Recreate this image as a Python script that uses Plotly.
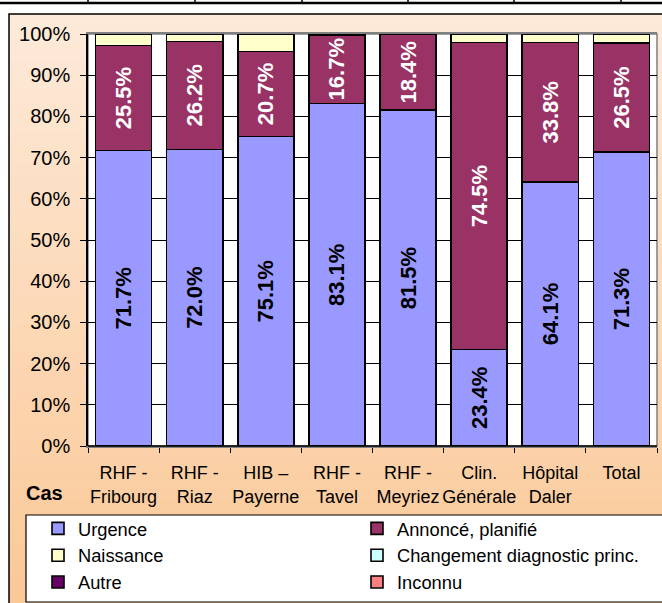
import plotly.graph_objects as go

categories = ["RHF -<br>Fribourg", "RHF -<br>Riaz", "HIB –<br>Payerne", "RHF -<br>Tavel",
              "RHF -<br>Meyriez", "Clin.<br>Générale", "Hôpital<br>Daler", "Total"]
urgence = [71.7, 72.0, 75.1, 83.1, 81.5, 23.4, 64.1, 71.3]
annonce = [25.5, 26.2, 20.7, 16.7, 18.4, 74.5, 33.8, 26.5]
naissance = [2.8, 1.8, 4.2, 0.2, 0.1, 2.1, 2.1, 2.2]
changement = [0, 0, 0, 0, 0, 0, 0, 0]
autre = [0, 0, 0, 0, 0, 0, 0, 0]
inconnu = [0, 0, 0, 0, 0, 0, 0, 0]
y_ticks = [0, 10, 20, 30, 40, 50, 60, 70, 80, 90, 100]
y_tick_labels = [f"{v}%" for v in y_ticks]

W, H = 662, 603
L, R, T, B = 88, 5, 34, 157
PW, PH = W - L - R, H - T - B

def px(x):
    return (x - L) / PW

def py(y):
    return (H - B - y) / PH

FONT = "Liberation Sans, Arial, sans-serif"
line = dict(color="black", width=1.6)

fig = go.Figure()
series = [
    ("Urgence", urgence, "#9999FF", "black", True),
    ("Annoncé, planifié", annonce, "#993366", "white", True),
    ("Naissance", naissance, "#FFFFCC", "black", False),
    ("Changement diagnostic princ.", changement, "#CCFFFF", "black", False),
    ("Autre", autre, "#660066", "black", False),
    ("Inconnu", inconnu, "#FF8080", "black", False),
]
for name, vals, color, tcol, lab in series:
    fig.add_trace(go.Bar(
        name=name, x=categories, y=vals,
        marker=dict(color=color, line=line),
        text=[f"{v:.1f}%" for v in vals] if lab else None,
        textposition="inside" if lab else "none",
        textangle=-90, insidetextanchor="middle", constraintext="none",
        insidetextfont=dict(family=FONT, size=22, color=tcol, weight="bold"),
    ))

shapes = []
# gradient background of chart area
top_c = (253, 234, 218)
bot_c = (251, 200, 150)
y_start, y_end = 14, 603
n = 40
for i in range(n):
    f = (i + 0.5) / n
    c = tuple(round(top_c[k] + (bot_c[k] - top_c[k]) * f) for k in range(3))
    ya = y_start + (y_end - y_start) * i / n
    yb = y_start + (y_end - y_start) * (i + 1) / n + 0.6
    shapes.append(dict(type="rect", xref="paper", yref="paper", layer="below",
                       x0=px(9), x1=px(670), y0=py(ya), y1=py(yb),
                       fillcolor=f"rgb{c}", line=dict(width=0)))
# outer frame
shapes.append(dict(type="rect", xref="paper", yref="paper", layer="below",
                   x0=px(9), x1=px(680), y0=py(14), y1=py(620),
                   fillcolor="rgba(0,0,0,0)", line=dict(color="black", width=1.5)))
# plot area
shapes.append(dict(type="rect", xref="paper", yref="paper", layer="below",
                   x0=0, x1=1, y0=0, y1=1, fillcolor="white",
                   line=dict(color="#808080", width=1.5)))
# legend box
shapes.append(dict(type="rect", xref="paper", yref="paper", layer="below",
                   x0=px(26), x1=px(680), y0=py(515), y1=py(602), fillcolor="white",
                   line=dict(color="black", width=1.2)))
# top table lines
shapes.append(dict(type="line", xref="paper", yref="paper", x0=px(0), x1=px(662),
                   y0=py(3), y1=py(3), line=dict(color="black", width=2.5)))
for xv in [88, 195, 302, 408, 514, 621]:
    shapes.append(dict(type="line", xref="paper", yref="paper", x0=px(xv), x1=px(xv),
                       y0=py(-2), y1=py(3), line=dict(color="black", width=1.5)))
# bottom axis line in black
shapes.append(dict(type="line", xref="paper", yref="paper", x0=0, x1=1, y0=0, y1=0,
                   line=dict(color="black", width=1.5)))

fig.update_layout(
    width=W, height=H,
    margin=dict(l=L, r=R, t=T, b=B, pad=0, autoexpand=False),
    barmode="stack", bargap=0.212,
    paper_bgcolor="white", plot_bgcolor="rgba(0,0,0,0)",
    font=dict(family=FONT, color="black"),
    shapes=shapes,
    showlegend=True,
    legend=dict(orientation="h", x=px(38), xanchor="left", y=py(510), yanchor="top",
                entrywidth=274, bgcolor="rgba(0,0,0,0)", borderwidth=0,
                font=dict(family=FONT, size=18.3, color="black"), traceorder="normal"),
    annotations=[dict(text="<b>Cas</b>", xref="paper", yref="paper", x=px(44), y=py(493),
                      showarrow=False, xanchor="center", yanchor="middle",
                      font=dict(family=FONT, size=20, color="black"))],
)
fig.update_xaxes(showline=True, mirror=True, linecolor="#808080", linewidth=1.5,
                 ticks="outside", tickson="boundaries", ticklen=5, tickcolor="black",
                 tickfont=dict(family=FONT, size=18, color="black"), showgrid=False,
                 tickangle=0, automargin=False, ticklabelstandoff=10)
fig.update_yaxes(range=[0, 100], tickvals=y_ticks, ticktext=y_tick_labels,
                 showline=True, linecolor="black", linewidth=1.5,
                 ticks="outside", ticklen=6, tickcolor="black",
                 showgrid=True, gridcolor="black", gridwidth=1,
                 zeroline=False, automargin=False,
                 tickfont=dict(family=FONT, size=20, color="black"),
                 ticklabelstandoff=6)

fig.write_html("out.html", config={"displayModeBar": False},
               post_script="document.body.style.margin='0px';document.body.style.overflow='hidden';")
